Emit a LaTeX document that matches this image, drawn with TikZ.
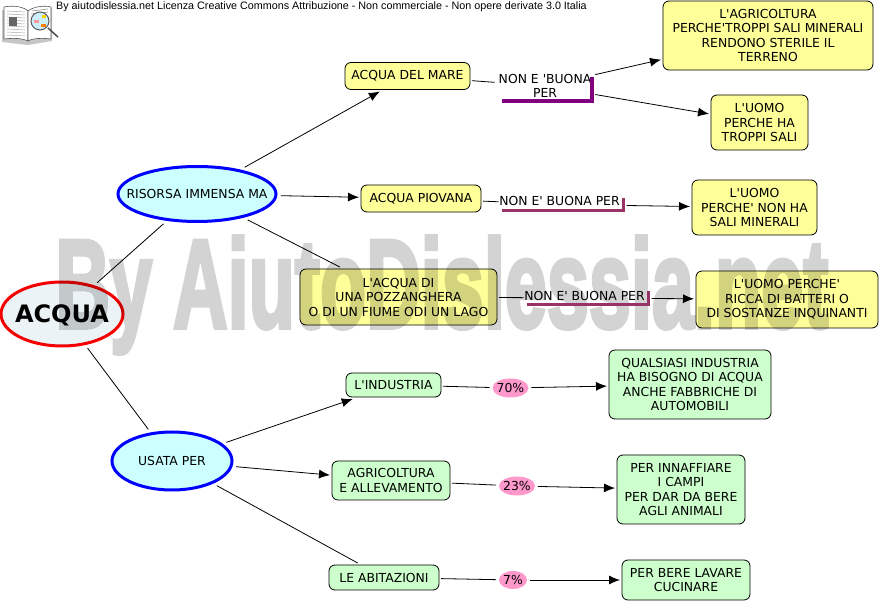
\documentclass[tikz,border=0pt]{standalone}
\usepackage{fontspec}
\setmainfont[Ligatures=TeXOff]{DejaVu Sans}
\newfontfamily\headfont{Liberation Sans}
\newfontfamily\wmfont[FakeBold=3.5]{Liberation Sans}
\usetikzlibrary{shapes.geometric,arrows.meta}
\definecolor{yelbox}{HTML}{FFFF99}
\definecolor{grnbox}{HTML}{CCFFCC}
\definecolor{cybox}{HTML}{CCFFFF}
\definecolor{rootfill}{HTML}{ECF3F6}
\definecolor{pinkel}{HTML}{FF99CC}
\definecolor{purA}{HTML}{800080}
\definecolor{purB}{HTML}{993366}
\definecolor{wm}{HTML}{D3D3D3}
\newcommand{\zerow}[1]{\makebox[0pt]{\smash{#1}}}
\tikzset{
  base/.style={font=\fontsize{12.4}{14.5}\selectfont,align=center,inner sep=0pt,text=black},
  yel/.style={base,draw=black,line width=.8pt,fill=yelbox,rounded corners=6pt,outer sep=2pt},
  grn/.style={base,draw=black,line width=.8pt,fill=grnbox,rounded corners=6pt,outer sep=2pt},
  oval/.style={base,ellipse,draw=blue,line width=3pt,fill=cybox,outer sep=5pt},
  pct/.style={base,ellipse,fill=pinkel,outer sep=3pt},
  lab/.style={base,outer sep=4pt},
  conn/.style={line width=.8pt,draw=black},
  arr/.style={conn,-{Latex[length=11pt,width=9pt]}},
}
\begin{document}
\begin{tikzpicture}[x=1pt,y=-1pt]
\useasboundingbox (0,0) rectangle (879,601);
\fill[white] (0,0) rectangle (879,601);
% watermark, below the boxes that multiply over it
\begin{scope}[color=wm]
\node[font=\wmfont\bfseries\fontsize{126}{130}\selectfont,inner sep=0pt,xscale=.6] (mark) at (442,295) {\color{wm}By AiutoDislessia.net};
\end{scope}
% header icon
\fill[gray!45] (2,10) -- (28,13) -- (52,8) -- (52,41) -- (28,45) -- (2,42) -- cycle;
\draw[gray!70!black,fill=white,line width=.6pt] (4,7) .. controls (14,5) and (24,7) .. (28,11) -- (28,41) .. controls (22,38) and (12,38) .. (4,39) -- cycle;
\draw[gray!70!black,fill=white,line width=.6pt] (28,11) .. controls (33,7) and (43,5) .. (51,7) -- (51,39) .. controls (43,38) and (33,38) .. (28,41) -- cycle;
\foreach \yy in {11,14,17,20,23,26,29,32,35}{\draw[gray!70,line width=.5pt] (7,\yy) -- (25,\yy+1);}
\fill[gray!80!black] (9,17) rectangle (17,26);
\draw[gray,line width=.5pt] (32,11) -- (48,9) (31,14) -- (48,12);
\draw[black!70,line width=1.5pt] (48,28) -- (58,37);
\draw[gray!70!black,fill=cyan!20,line width=1pt] (40,21) circle (9);
\fill[pink!80!red] (34,20) rectangle (39,23);
\fill[yellow!70!orange] (42,15) rectangle (46,18);
\fill[orange] (41,24) rectangle (46,27);
\node[font=\headfont\fontsize{10.75}{12}\selectfont,anchor=west,inner sep=0pt] (head) at (56,6.5) {By aiutodislessia.net Licenza Creative Commons Attribuzione - Non commerciale - Non opere derivate 3.0 Italia};
% nodes
\begin{scope}[blend mode=multiply]
\node[base,ellipse,draw=red,line width=3pt,fill=rootfill,minimum width=122pt,minimum height=64pt,outer sep=5pt,font=\bfseries\fontsize{24}{28}\selectfont] (acqua) at (62,314) {\zerow{\raisebox{-8.5pt}{ACQUA}}};
\node[yel,minimum width=197pt,minimum height=56pt] (pozz) at (398.5,297) {L'ACQUA DI\\UNA POZZANGHERA\\O DI UN FIUME ODI UN LAGO};
\node[yel,minimum width=182pt,minimum height=57pt] (uomoc) at (787,299.5) {L'UOMO PERCHE'\\RICCA DI BATTERI O\\DI SOSTANZE INQUINANTI};
\end{scope}
\node[oval,minimum width=158pt,minimum height=55pt] (ris) at (197,194) {\zerow{\raisebox{-4.5pt}{RISORSA IMMENSA MA}}};
\node[oval,minimum width=120pt,minimum height=58pt] (usa) at (172,461) {\zerow{\raisebox{-4.5pt}{USATA PER}}};
\node[yel,minimum width=125pt,minimum height=27pt] (mare) at (407.5,76) {ACQUA DEL MARE};
\node[yel,minimum width=120pt,minimum height=27pt] (piov) at (421,198.5) {ACQUA PIOVANA};
\node[yel,minimum width=210pt,minimum height=69pt] (agri) at (768,35.5) {L'AGRICOLTURA\\PERCHE'TROPPI SALI MINERALI\\RENDONO STERILE IL\\TERRENO};
\node[yel,minimum width=97pt,minimum height=55pt] (uomoa) at (759.5,122.5) {L'UOMO\\PERCHE HA\\TROPPI SALI};
\node[yel,minimum width=125pt,minimum height=55pt] (uomob) at (754.5,207.5) {L'UOMO\\PERCHE' NON HA\\SALI MINERALI};
\node[grn,minimum width=95pt,minimum height=24pt] (ind) at (393.5,385) {L'INDUSTRIA};
\node[grn,minimum width=118pt,minimum height=39pt] (all) at (391,480.5) {AGRICOLTURA\\E ALLEVAMENTO};
\node[grn,minimum width=110pt,minimum height=25pt] (abi) at (384,577.5) {LE ABITAZIONI};
\node[grn,minimum width=162pt,minimum height=69pt] (qual) at (690,384.5) {QUALSIASI INDUSTRIA\\HA BISOGNO DI ACQUA\\ANCHE FABBRICHE DI\\AUTOMOBILI};
\node[grn,minimum width=128pt,minimum height=69pt] (inn) at (681,489.5) {PER INNAFFIARE\\I CAMPI\\PER DAR DA BERE\\AGLI ANIMALI};
\node[grn,minimum width=128pt,minimum height=40pt] (bere) at (686,580) {PER BERE LAVARE\\CUCINARE};
\node[pct,minimum width=36pt,minimum height=19pt] (p70) at (510.5,388) {\zerow{\raisebox{-4.5pt}{70\%}}};
\node[pct,minimum width=36pt,minimum height=19pt] (p23) at (517,486) {\zerow{\raisebox{-4.5pt}{23\%}}};
\node[pct,minimum width=28pt,minimum height=18pt] (p7) at (513,580) {\zerow{\raisebox{-4.5pt}{7\%}}};
\node[lab,minimum width=90pt,minimum height=25pt] (la) at (545,86) {NON E 'BUONA\\PER};
\node[lab,minimum width=120pt,minimum height=11pt] (lb) at (562.5,204.5) {\smash{\raisebox{-1.5pt}{\kern-6pt NON E' BUONA PER}}};
\node[lab,minimum width=120pt,minimum height=11pt] (lc) at (587.5,298) {\smash{\raisebox{-2.7pt}{\kern-6pt NON E' BUONA PER}}};
% purple corners
\draw[purA,line width=3.5pt] ([shift={(-43,15)}]la.center) -| ([shift={(47,-9)}]la.center);
\draw[purB,line width=3pt] ([shift={(3,-3)}]lb.south west) -| ([shift={(-3,3)}]lb.north east);
\draw[purB,line width=3pt] ([shift={(3,-3)}]lc.south west) -| ([shift={(-3,3)}]lc.north east);
% connectors
\draw[conn] (acqua) -- (ris);
\draw[conn] (acqua) -- (usa);
\draw[arr] (ris) -- (mare);
\draw[arr] (ris) -- (piov);
\draw[conn] (ris) -- (pozz);
\draw[conn] (mare) -- (la);
\draw[arr] (la) -- (agri);
\draw[arr] (la) -- (uomoa);
\draw[conn] (piov) -- (lb);
\draw[arr] (lb) -- (uomob);
\draw[conn] (pozz) -- (lc);
\draw[arr] (lc) -- (uomoc);
\draw[arr] (usa) -- (ind);
\draw[arr] (usa) -- (all);
\draw[conn] (usa) -- (abi);
\draw[conn] (ind) -- (p70);
\draw[arr] (p70) -- (qual);
\draw[conn] (all) -- (p23);
\draw[arr] (p23) -- (inn);
\draw[conn] (abi) -- (p7);
\draw[arr] (p7) -- (bere);
\end{tikzpicture}
\end{document}
